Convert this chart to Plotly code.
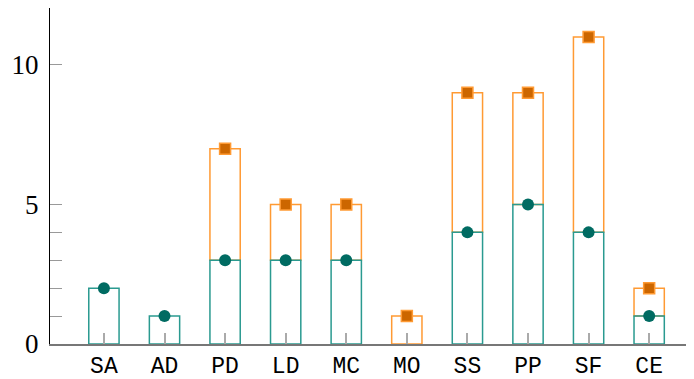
import plotly.graph_objects as go

categories = ["SA", "AD", "PD", "LD", "MC", "MO", "SS", "PP", "SF", "CE"]
lower_vals = [2, 1, 3, 3, 3, 0, 4, 5, 4, 1]
upper_vals = [0, 0, 4, 2, 2, 1, 5, 4, 7, 1]
ytick_vals = [0, 1, 2, 3, 4, 5, 10]
ytick_text = ["0", "", "", "", "", "5", "10"]

TEAL_LINE = "#2a9a90"
TEAL_MARK = "#006b62"
ORANGE_LINE = "#ff9a33"
ORANGE_MARK = "#cc6600"

lower_bar = [v if v > 0 else None for v in lower_vals]
upper_bar = [v if v > 0 else None for v in upper_vals]
totals = [a + b for a, b in zip(lower_vals, upper_vals)]

fig = go.Figure()
fig.add_trace(go.Bar(
    x=categories, y=upper_bar, base=lower_vals, width=0.5,
    marker=dict(color="rgba(0,0,0,0)", line=dict(color=ORANGE_LINE, width=1.5)),
    hoverinfo="skip", showlegend=False))
fig.add_trace(go.Bar(
    x=categories, y=lower_bar, width=0.5,
    marker=dict(color="rgba(0,0,0,0)", line=dict(color=TEAL_LINE, width=1.5)),
    hoverinfo="skip", showlegend=False))
fig.add_trace(go.Scatter(
    x=[c for c, v in zip(categories, lower_vals) if v > 0],
    y=[v for v in lower_vals if v > 0],
    mode="markers",
    marker=dict(symbol="circle", size=12, color=TEAL_MARK, line=dict(width=0)),
    showlegend=False))
fig.add_trace(go.Scatter(
    x=[c for c, v in zip(categories, upper_vals) if v > 0],
    y=[t for t, v in zip(totals, upper_vals) if v > 0],
    mode="markers",
    marker=dict(symbol="square", size=11, color=ORANGE_MARK, line=dict(width=1.5, color=ORANGE_LINE)),
    showlegend=False))

# the page body has an 8px default margin; compensate so the plot lands where the reference has it
fig.update_layout(
    width=686, height=371,
    margin=dict(l=42, r=0, t=0, b=35, autoexpand=False),
    barmode="overlay",
    plot_bgcolor="white", paper_bgcolor="white",
    xaxis=dict(
        range=[-0.89, 9.74],
        showgrid=False, zeroline=False,
        showline=True, linecolor="#777777", linewidth=1.5,
        ticks="inside", ticklen=11, tickcolor="#aaaaaa", tickwidth=1.5,
        tickfont=dict(family="Liberation Mono", size=23, color="black"),
        fixedrange=True, automargin=False,
    ),
    yaxis=dict(
        range=[0, 12.04],
        showgrid=False, zeroline=False,
        showline=True, linecolor="black", linewidth=1.2,
        tickvals=ytick_vals, ticktext=ytick_text,
        ticks="inside", ticklen=12, tickcolor="#999999", tickwidth=1.2,
        tickfont=dict(family="Liberation Serif", size=27, color="black"),
        ticklabelstandoff=5,
        fixedrange=True, automargin=False,
    ),
)

fig.write_html("out.html")
